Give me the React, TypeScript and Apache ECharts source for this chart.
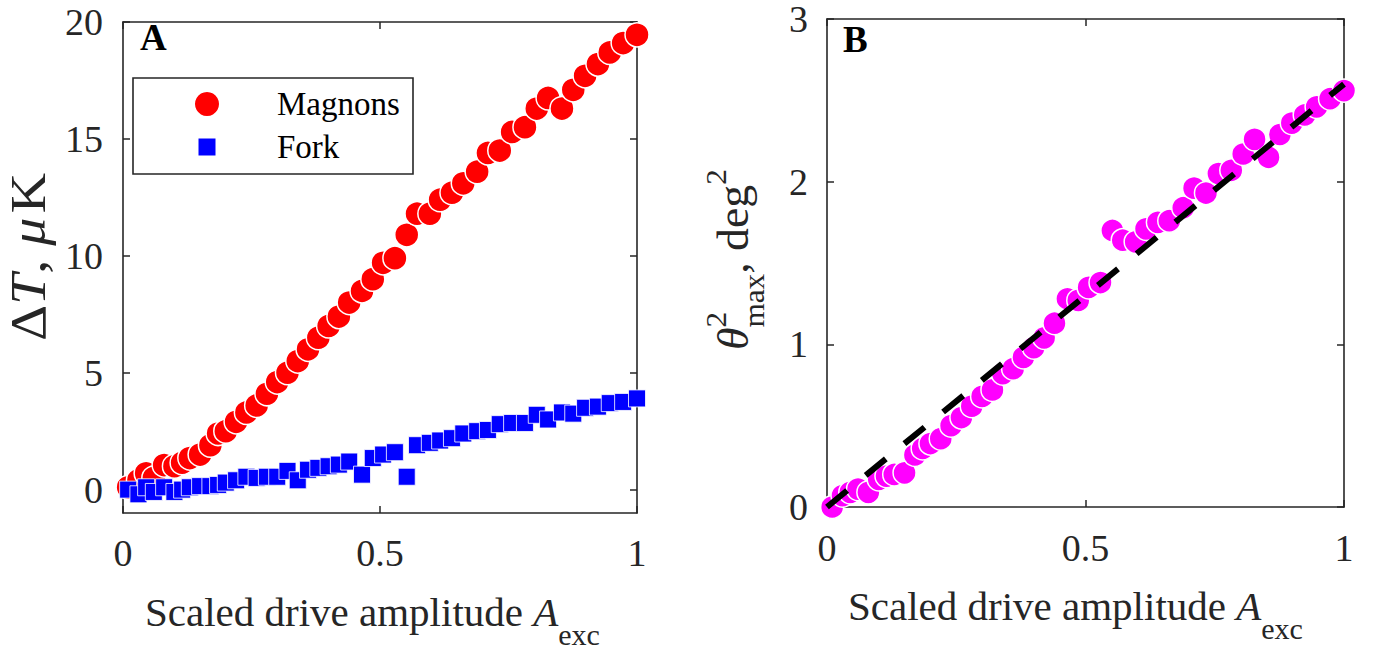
import React, { useEffect, useRef } from "react";
import * as echarts from "echarts";

// ---- data ----
const amplitude = [
  0.01, 0.03, 0.045, 0.06, 0.08, 0.1, 0.115, 0.13, 0.15, 0.17, 0.185, 0.2,
  0.22, 0.24, 0.26, 0.28, 0.3, 0.32, 0.34, 0.36, 0.38, 0.4, 0.42, 0.44,
  0.465, 0.486, 0.506, 0.529, 0.552, 0.572, 0.597, 0.617, 0.64, 0.662, 0.689, 0.71,
  0.733, 0.757, 0.782, 0.805, 0.827, 0.854, 0.876, 0.899, 0.924, 0.947, 0.973, 1.0,
];
const magnonsDT = [
  0.1, 0.4, 0.7, 0.5, 1.05, 1.0, 1.15, 1.35, 1.5, 1.9, 2.4, 2.5,
  2.9, 3.3, 3.6, 4.1, 4.6, 5.0, 5.5, 6.0, 6.5, 7.0, 7.4, 8.0,
  8.5, 9.0, 9.7, 9.9, 10.9, 11.8, 11.8, 12.4, 12.7, 13.1, 13.6, 14.4,
  14.5, 15.3, 15.5, 16.3, 16.75, 16.3, 17.1, 17.7, 18.2, 18.7, 19.1, 19.45,
];
const forkDT = [
  0.0, -0.2, 0.1, -0.1, 0.1, -0.1, 0.0, 0.1, 0.15, 0.15, 0.2, 0.3,
  0.4, 0.55, 0.5, 0.55, 0.55, 0.8, 0.4, 0.85, 0.93, 1.0, 1.07, 1.2,
  0.64, 1.35, 1.5, 1.6, 0.55, 1.9, 2.0, 2.1, 2.2, 2.4, 2.5, 2.55,
  2.8, 2.85, 2.85, 3.2, 3.0, 3.3, 3.25, 3.5, 3.55, 3.7, 3.75, 3.9,
];
const thetaMaxSq = [
  0.0, 0.07, 0.09, 0.11, 0.09, 0.17, 0.19, 0.2, 0.21, 0.32, 0.36, 0.39,
  0.42, 0.5, 0.55, 0.62, 0.68, 0.72, 0.82, 0.85, 0.92, 0.98, 1.04, 1.13,
  1.28, 1.27, 1.35, 1.38, 1.7, 1.64, 1.63, 1.71, 1.75, 1.76, 1.84, 1.96,
  1.93, 2.05, 2.07, 2.17, 2.26, 2.15, 2.29, 2.36, 2.41, 2.46, 2.51, 2.56,
];
const fitX = [0, 1];
const fitY = [0, 2.6];
const leftYTicks = [0, 5, 10, 15, 20];
const legendNames = ["Magnons", "Fork"];

const SERIF = '"Liberation Serif", "Times New Roman", Times, serif';
const AXIS = "#262626";

let measureCtx: CanvasRenderingContext2D | null = null;
function measure(t: string, size: number, italic?: boolean, bold?: boolean) {
  if (!measureCtx) measureCtx = document.createElement("canvas").getContext("2d");
  if (!measureCtx) return t.length * size * 0.5;
  measureCtx.font = `${italic ? "italic " : ""}${bold ? "bold " : ""}${size}px ${SERIF}`;
  return measureCtx.measureText(t).width;
}

type Frag = { t: string; size: number; italic?: boolean; gap?: number; dy?: number; advance?: boolean };
function fragTexts(frags: Frag[]) {
  let x = 0;
  const out: any[] = [];
  for (const f of frags) {
    x += f.gap || 0;
    out.push({
      type: "text",
      x,
      y: (f.dy || 0) - 0.33 * f.size,
      style: {
        text: f.t,
        fontSize: f.size,
        fontFamily: SERIF,
        fontStyle: f.italic ? "italic" : "normal",
        fill: AXIS,
        align: "left",
        verticalAlign: "middle",
      },
    });
    if (f.advance !== false) x += measure(f.t, f.size, f.italic);
  }
  return out;
}

function boxAxes(gridIndex: number, min: number, max: number, interval: number | null, custom: number[] | null, isX: boolean, margin: number) {
  const common: any = {
    type: "value",
    gridIndex,
    min,
    max,
    splitLine: { show: false },
    axisLine: { show: true, onZero: false, lineStyle: { color: AXIS, width: 1.6 } },
  };
  if (interval !== null) common.interval = interval;
  const tick: any = { show: true, inside: true, length: 7, lineStyle: { color: AXIS, width: 1.5 } };
  if (custom) tick.customValues = custom;
  const main = {
    ...common,
    position: isX ? "bottom" : "left",
    axisTick: tick,
    axisLabel: {
      show: true,
      margin,
      color: AXIS,
      fontSize: 38,
      fontFamily: SERIF,
      ...(isX ? {} : { lineHeight: 28 }),
      ...(custom ? { customValues: custom } : {}),
    },
  };
  const opp = {
    ...common,
    position: isX ? "top" : "right",
    axisTick: tick,
    axisLabel: { show: false },
  };
  return [main, opp];
}

export default function App() {
  const ref = useRef<HTMLDivElement>(null);
  useEffect(() => {
    if (!ref.current) return;
    const chart = echarts.init(ref.current, null, { renderer: "svg" });
    const magnons = amplitude.map((a, i) => [a, magnonsDT[i]]);
    const fork = amplitude.map((a, i) => [a, forkDT[i]]);
    const theta = amplitude.map((a, i) => [a, thetaMaxSq[i]]);
    const fit = fitX.map((a, i) => [a, fitY[i]]);

    const xAxes = [
      ...boxAxes(0, 0, 1, 0.5, null, true, 21),
      ...boxAxes(1, 0, 1, 0.5, null, true, 22),
    ];
    const yAxes = [
      ...boxAxes(0, -1, 20, null, leftYTicks, false, 20),
      ...boxAxes(1, 0, 3, 1, null, false, 19),
    ];

    const xTitle = () =>
      fragTexts([
        { t: "Scaled drive amplitude ", size: 41 },
        { t: "A", size: 41, italic: true },
        { t: "exc", size: 30, dy: 18 },
      ]);
    const yTitleL = fragTexts([
      { t: "\u0394", size: 50 },
      { t: "T", size: 50, italic: true },
      { t: ", ", size: 50 },
      { t: "\u03bc", size: 50, italic: true },
      { t: "K", size: 50, gap: 4 },
    ]);
    const yTitleR = fragTexts([
      { t: "\u03b8", size: 44, italic: true },
      { t: "2", size: 30, dy: -22, advance: false },
      { t: "max", size: 30, dy: 16 },
      { t: ", ", size: 44 },
      { t: "deg", size: 44 },
      { t: "2", size: 30, dy: -22 },
    ]);

    chart.setOption({
      animation: false,
      backgroundColor: "#ffffff",
      grid: [
        { left: 123, top: 22, width: 514, height: 491 },
        { left: 827, top: 15, width: 517, height: 492 },
      ],
      xAxis: xAxes,
      yAxis: yAxes,
      series: [
        {
          name: legendNames[0],
          type: "scatter",
          xAxisIndex: 0,
          yAxisIndex: 0,
          data: magnons,
          symbol: "circle",
          symbolSize: 24,
          clip: false,
          silent: true,
          itemStyle: { color: "#ff0000", borderColor: "#ffffff", borderWidth: 1.5, opacity: 1 },
          z: 2,
        },
        {
          name: legendNames[1],
          type: "scatter",
          xAxisIndex: 0,
          yAxisIndex: 0,
          data: fork,
          symbol: "rect",
          symbolSize: 17,
          clip: false,
          silent: true,
          itemStyle: { color: "#0000ff", borderColor: "rgba(255,255,255,0.8)", borderWidth: 1, opacity: 1 },
          z: 3,
        },
        {
          name: "theta",
          type: "scatter",
          xAxisIndex: 2,
          yAxisIndex: 2,
          data: theta,
          symbol: "circle",
          symbolSize: 23,
          clip: false,
          silent: true,
          itemStyle: { color: "#ff00ff", borderColor: "#ffffff", borderWidth: 1.5, opacity: 1 },
          z: 2,
        },
        {
          name: "fit",
          type: "line",
          xAxisIndex: 2,
          yAxisIndex: 2,
          data: fit,
          symbol: "none",
          silent: true,
          lineStyle: { color: "#000000", width: 6, type: [26, 24], cap: "butt" },
          z: 4,
        },
      ],
      graphic: [
        {
          type: "text",
          x: 140,
          y: 37,
          style: { text: "A", fontSize: 37, fontWeight: "bold", fontFamily: SERIF, fill: "#000", verticalAlign: "middle" },
          z: 10,
        },
        {
          type: "text",
          x: 843,
          y: 39,
          style: { text: "B", fontSize: 37, fontWeight: "bold", fontFamily: SERIF, fill: "#000", verticalAlign: "middle" },
          z: 10,
        },
        {
          type: "group",
          z: 10,
          children: [
            { type: "rect", shape: { x: 133, y: 78, width: 280, height: 96 }, style: { fill: "#fff", stroke: AXIS, lineWidth: 1.6 } },
            { type: "circle", shape: { cx: 207, cy: 104, r: 12 }, style: { fill: "#ff0000" } },
            { type: "rect", shape: { x: 198.5, y: 138.5, width: 17, height: 17 }, style: { fill: "#0000ff" } },
            { type: "text", x: 277, y: 104, style: { text: legendNames[0], fontSize: 33, fontFamily: SERIF, fill: "#000", verticalAlign: "middle" } },
            { type: "text", x: 277, y: 147, style: { text: legendNames[1], fontSize: 33, fontFamily: SERIF, fill: "#000", verticalAlign: "middle" } },
          ],
        },
        { type: "group", x: 145, y: 626, children: xTitle() },
        { type: "group", x: 848, y: 620, children: xTitle() },
        { type: "group", x: 45, y: 341, rotation: Math.PI / 2, scaleX: 1.12, children: yTitleL },
        { type: "group", x: 748, y: 350, rotation: Math.PI / 2, scaleX: 1.04, children: yTitleR },
      ],
    });
    return () => chart.dispose();
  }, []);
  return (
    <div
      ref={ref}
      style={{ position: "absolute", left: 0, top: 0, width: 1379, height: 654, background: "#fff" }}
    />
  );
}
